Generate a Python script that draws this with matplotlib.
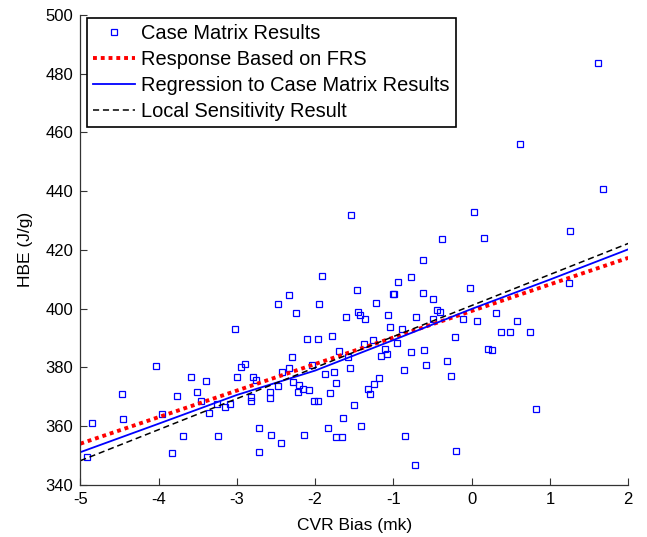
import matplotlib
matplotlib.use("Agg")
import matplotlib.pyplot as plt

plt.rcParams["font.family"] = ["Liberation Sans", "DejaVu Sans"]
plt.rcParams["axes.unicode_minus"] = False

# case matrix results
case_x = [
    -4.85, -4.91, -4.47, -4.46, -4.03, -3.95, -3.83, -3.77, -3.69, -3.58,
    -3.51, -3.46, -3.40, -3.36, -3.26, -3.24, -3.15, -3.09, -3.02, -3.00,
    -2.95, -2.90, -2.79, -2.76, -2.82, -2.82, -2.72, -2.72,
    -2.58, -2.58, -2.48, -2.34, -2.25, -2.48, -2.42, -2.33, -2.30, -2.28,
    -2.22, -2.20, -2.16, -2.08, -2.04, -2.11, -1.96, -1.95, -1.91, -2.02,
    -1.97, -1.88, -1.81, -1.78, -1.76, -1.73, -1.70, -1.58, -1.56, -1.61,
    -1.54, -1.47, -1.45, -1.43, -1.36, -1.38, -1.50, -1.42, -1.64, -1.84,
    -1.73, -1.66, -2.14, -2.57, -2.44, -1.33, -1.30, -1.25, -1.19, -1.26,
    -1.22, -1.16, -1.11, -1.08, -1.07, -1.04, -1.01, -0.99, -0.96, -0.94,
    -0.89, -0.86, -0.85, -0.78, -0.77, -0.73, -0.71, -0.62, -0.62, -0.61,
    -0.58, -0.49, -0.49, -0.44, -0.40, -0.38, -0.31, -0.26, -0.21, -0.20,
    1.615, 0.617, 1.683, 0.034, 0.16, 1.25, 1.24, -0.025, -0.106, 0.068,
    0.313, 0.579, 0.376, 0.486, 0.748, 0.203, 0.254, 0.82,
]
case_y = [
    360.9, 349.5, 370.8, 362.5, 380.6, 364.1, 350.7, 370.4, 356.7, 376.8,
    371.5, 368.7, 375.5, 364.6, 367.5, 356.5, 366.4, 367.5, 393.0, 376.8,
    380.1, 381.2, 376.6, 375.7, 369.9, 368.6, 359.3, 351.1,
    371.7, 369.7, 401.7, 404.6, 398.5, 373.7, 378.4, 379.9, 383.4, 375.1,
    371.5, 374.0, 372.5, 372.3, 380.7, 389.5, 389.5, 401.7, 411.1, 368.4,
    368.7, 377.6, 371.2, 390.6, 378.3, 374.8, 385.5, 383.6, 379.9, 397.1,
    432.0, 406.4, 398.9, 397.7, 396.3, 388.1, 367.2, 360.1, 362.9, 359.3,
    356.2, 356.4, 356.8, 356.8, 354.2, 372.5, 370.8, 374.3, 376.3, 389.3,
    402.0, 383.8, 386.2, 384.6, 397.9, 393.6, 405.1, 405.1, 388.4, 408.9,
    393.1, 379.1, 356.5, 385.1, 410.7, 346.7, 397.1, 416.4, 405.3, 385.9,
    380.9, 403.2, 396.5, 399.7, 398.9, 423.6, 382.3, 377.2, 390.3, 351.4,
    483.8, 456.0, 440.7, 432.9, 424.2, 426.6, 408.6, 407.1, 396.5, 395.9,
    398.4, 395.9, 392.2, 391.9, 391.9, 386.4, 385.8, 365.8,
]

# fitted / predicted lines
line_x = [-5, 2]
frs_y = [354.0, 417.3]
local_y = [348.2, 422.2]
reg_x = [-5, -4, -3, -2, -1, 0, 1, 2]
reg_y = [351.1, 360.8, 370.6, 378.9, 389.3, 399.9, 409.9, 420.2]

fig = plt.figure(figsize=(6.47, 5.37), dpi=100)
ax = fig.add_axes([0.1241, 0.0972, 0.847, 0.8749])

ax.plot(case_x, case_y, "s", ls="none", mfc="none", mec="#0000ff", ms=5,
        mew=0.9, label="Case Matrix Results")
ax.plot(line_x, frs_y, color="#ff0000", ls=(0, (1, 1)), lw=2.8,
        label="Response Based on FRS")
ax.plot(reg_x, reg_y, color="#0000ff", lw=1.3,
        label="Regression to Case Matrix Results")
ax.plot(line_x, local_y, color="black", ls=(0, (4, 2.5)), lw=1.1,
        label="Local Sensitivity Result")

ax.set_xlim(-5, 2)
ax.set_ylim(340, 500)
ax.set_xticks(range(-5, 3))
ax.set_yticks(range(340, 501, 20))
for side in ("top", "right"):
    ax.spines[side].set_visible(False)
for side in ("left", "bottom"):
    ax.spines[side].set_color("#333333")
    ax.spines[side].set_linewidth(0.9)
ax.tick_params(direction="in", length=5, width=0.8, color="#333333",
               labelsize=12, pad=5)

ax.set_xlabel("CVR Bias (mk)", fontsize=12.5, labelpad=8)
ax.set_ylabel("HBE (J/g)", fontsize=12.5, labelpad=9)

leg = ax.legend(loc="upper left", bbox_to_anchor=(0.0125, 0.993),
                borderaxespad=0, fontsize=14.4, numpoints=1, handlelength=2.1,
                handletextpad=0.3, labelspacing=0.34, borderpad=0.3,
                fancybox=False, framealpha=1)
leg.get_frame().set_edgecolor("black")
leg.get_frame().set_linewidth(1.2)

fig.savefig("out.png", dpi=100)
